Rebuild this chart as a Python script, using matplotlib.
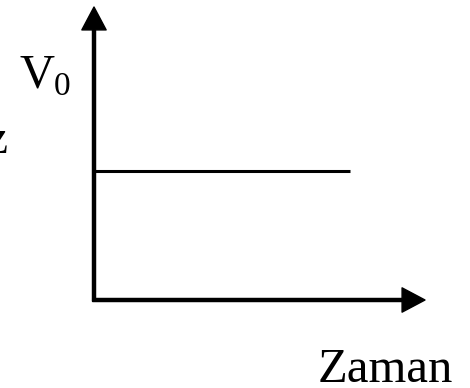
import matplotlib
matplotlib.use('Agg')
import matplotlib.pyplot as plt

# constant velocity over time
time = [0, 7.73]
velocity = [4.4, 4.4]
x_label = 'Zaman'
y_label = 'Hız'
v_label = 'V'
v_sub = '0'

W, H = 470, 388
fig = plt.figure(figsize=(W / 100, H / 100), dpi=100)
# axes spanning from the origin (94,300) to the arrow tips (425,7) in pixels
ax = fig.add_axes([94 / W, 1 - 300 / H, (425 - 94) / W, (300 - 7) / H])
ax.set_xlim(0, 10)
ax.set_ylim(0, 10)
ax.axis('off')

ax.plot(time, velocity, color='black', lw=2.2, solid_capstyle='butt')

arrow = dict(width=2.2, headwidth=17.5, headlength=16.5, facecolor='black',
             edgecolor='black', shrink=0)
ax.annotate('', xy=(1, 0), xycoords='axes fraction', xytext=(-0.004, 0),
            textcoords='axes fraction', arrowprops=arrow)
ax.annotate('', xy=(0, 1), xycoords='axes fraction', xytext=(0, -0.004),
            textcoords='axes fraction', arrowprops=arrow)

serif = 'Liberation Serif'
fig.text(20 / W, 1 - 88 / H, v_label, fontsize=35, family=serif, va='baseline')
fig.text(54 / W, 1 - 95 / H, v_sub, fontsize=24, family=serif, va='baseline')
fig.text(9 / W, 1 - 153 / H, y_label, fontsize=35, family=serif, va='baseline', ha='right')
fig.text(318 / W, 1 - 382 / H, x_label, fontsize=35, family=serif, va='baseline')

fig.savefig('out.png', dpi=100)
